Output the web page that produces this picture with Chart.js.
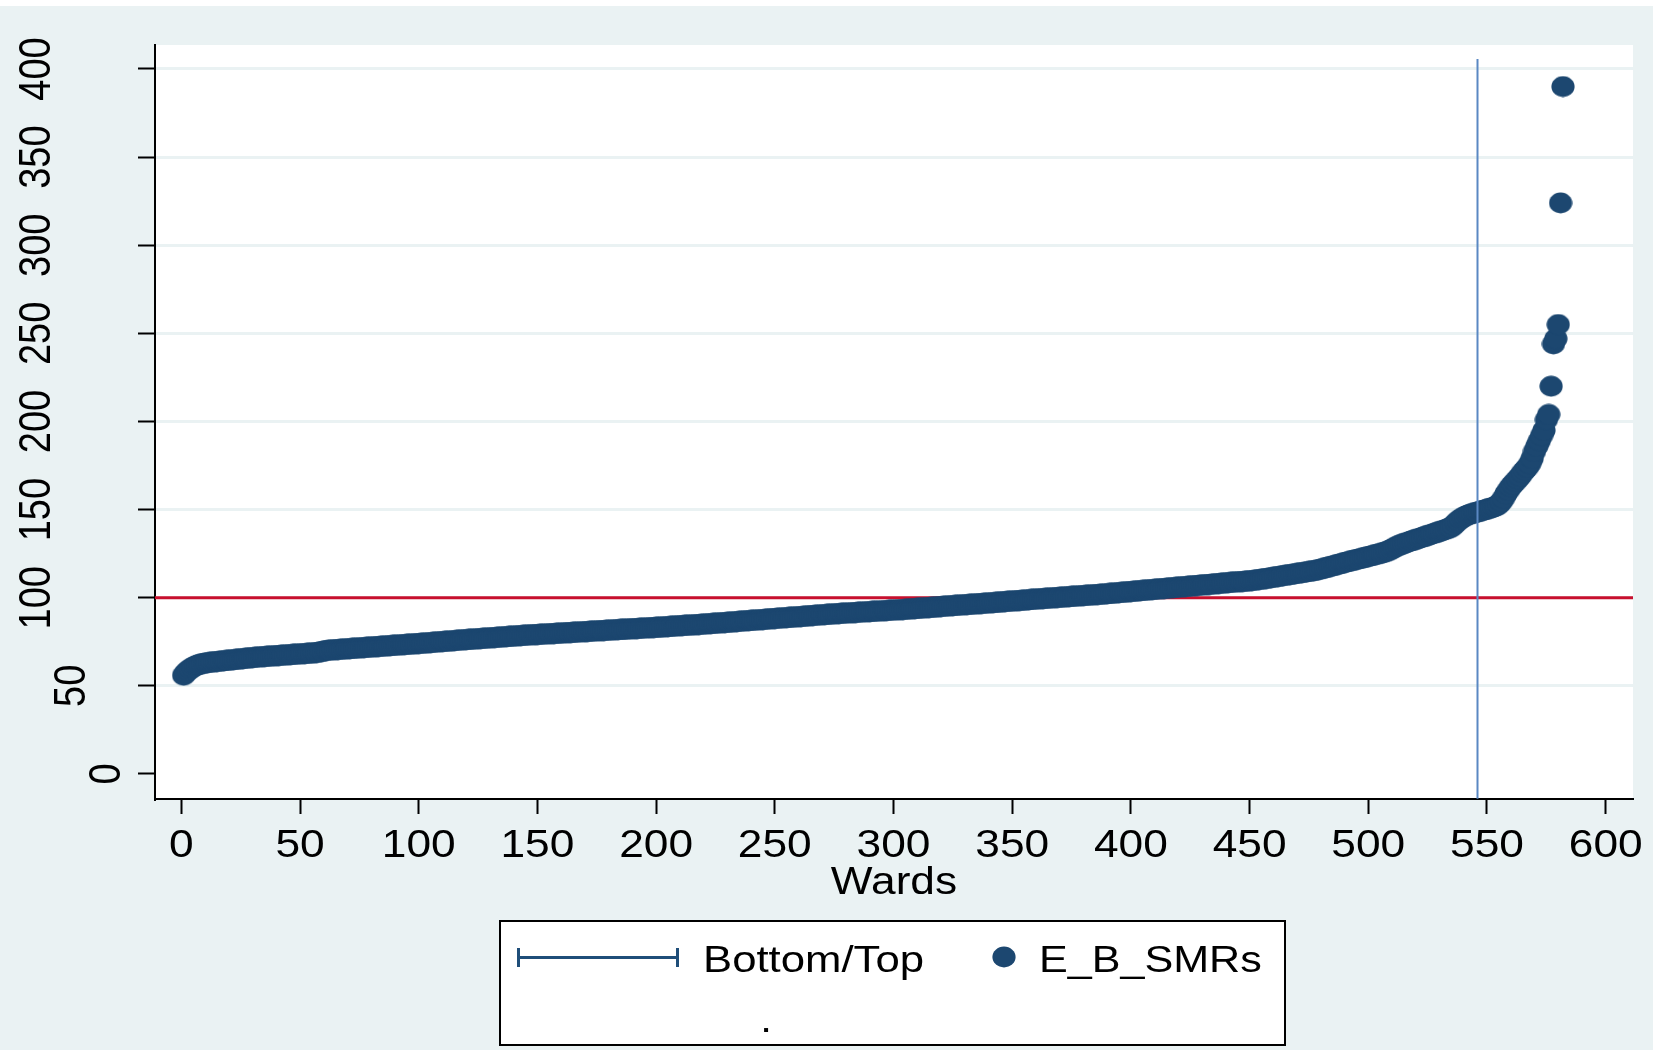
<!DOCTYPE html>
<html>
<head>
<meta charset="utf-8">
<title>E_B_SMRs by ward</title>
<script src="https://cdn.jsdelivr.net/npm/chart.js@4.4.1/dist/chart.umd.min.js"></script>
<style>
  html, body { margin: 0; padding: 0; background: #fff; }
  canvas { display: block; }
</style>
</head>
<body>
<canvas id="smrChart" width="1653" height="1050"></canvas>
<script>
// sorted empirical Bayes SMRs, one per ward (rank 1..582)
var smrValues = [
  56.0, 57.6, 58.8, 59.8, 60.6, 61.3, 61.9, 62.3, 62.6, 62.9,
  63.1, 63.3, 63.5, 63.6, 63.8, 63.9, 64.1, 64.2, 64.4, 64.5,
  64.7, 64.8, 65.0, 65.1, 65.3, 65.4, 65.6, 65.7, 65.9, 66.0,
  66.1, 66.3, 66.4, 66.5, 66.6, 66.7, 66.8, 66.9, 67.0, 67.1,
  67.2, 67.3, 67.4, 67.5, 67.6, 67.7, 67.8, 67.9, 68.0, 68.1,
  68.2, 68.3, 68.4, 68.5, 68.6, 68.7, 68.9, 69.1, 69.4, 69.7,
  70.0, 70.2, 70.3, 70.4, 70.5, 70.6, 70.7, 70.8, 70.9, 71.0,
  71.1, 71.2, 71.3, 71.4, 71.5, 71.6, 71.7, 71.8, 71.9, 72.0,
  72.1, 72.2, 72.3, 72.4, 72.5, 72.6, 72.7, 72.8, 72.9, 73.0,
  73.1, 73.2, 73.3, 73.4, 73.5, 73.6, 73.7, 73.8, 73.9, 74.0,
  74.1, 74.2, 74.3, 74.4, 74.5, 74.6, 74.8, 74.9, 75.0, 75.1,
  75.2, 75.3, 75.4, 75.5, 75.6, 75.8, 75.9, 76.0, 76.1, 76.2,
  76.3, 76.4, 76.5, 76.6, 76.7, 76.8, 76.9, 77.0, 77.1, 77.2,
  77.3, 77.4, 77.5, 77.6, 77.7, 77.8, 77.9, 78.0, 78.1, 78.2,
  78.3, 78.4, 78.5, 78.6, 78.7, 78.8, 78.9, 79.0, 79.0, 79.1,
  79.2, 79.3, 79.4, 79.4, 79.5, 79.6, 79.7, 79.8, 79.8, 79.9,
  80.0, 80.1, 80.2, 80.2, 80.3, 80.4, 80.5, 80.6, 80.6, 80.7,
  80.8, 80.9, 81.0, 81.1, 81.2, 81.2, 81.3, 81.4, 81.5, 81.6,
  81.6, 81.7, 81.8, 81.9, 82.0, 82.0, 82.1, 82.2, 82.3, 82.4,
  82.4, 82.5, 82.6, 82.7, 82.8, 82.8, 82.9, 83.0, 83.1, 83.2,
  83.2, 83.3, 83.4, 83.5, 83.6, 83.7, 83.8, 83.9, 84.0, 84.1,
  84.2, 84.3, 84.4, 84.4, 84.5, 84.6, 84.7, 84.8, 84.9, 85.0,
  85.1, 85.2, 85.3, 85.4, 85.5, 85.6, 85.7, 85.8, 85.9, 86.0,
  86.1, 86.2, 86.3, 86.4, 86.6, 86.7, 86.8, 86.9, 87.0, 87.1,
  87.2, 87.3, 87.4, 87.5, 87.6, 87.7, 87.9, 88.0, 88.1, 88.2,
  88.3, 88.4, 88.5, 88.6, 88.7, 88.8, 88.9, 89.0, 89.1, 89.2,
  89.3, 89.4, 89.5, 89.7, 89.8, 89.9, 90.0, 90.1, 90.2, 90.3,
  90.4, 90.5, 90.6, 90.7, 90.8, 90.9, 91.0, 91.1, 91.2, 91.3,
  91.3, 91.4, 91.5, 91.6, 91.7, 91.8, 91.9, 91.9, 92.0, 92.1,
  92.2, 92.3, 92.4, 92.4, 92.5, 92.6, 92.7, 92.8, 92.9, 93.0,
  93.0, 93.1, 93.2, 93.3, 93.4, 93.5, 93.6, 93.7, 93.8, 93.9,
  94.0, 94.1, 94.2, 94.3, 94.4, 94.5, 94.6, 94.7, 94.9, 95.0,
  95.1, 95.2, 95.3, 95.4, 95.5, 95.6, 95.7, 95.8, 95.9, 96.0,
  96.1, 96.2, 96.3, 96.4, 96.5, 96.6, 96.7, 96.8, 96.9, 97.0,
  97.1, 97.2, 97.3, 97.4, 97.5, 97.7, 97.8, 97.9, 98.0, 98.1,
  98.2, 98.3, 98.4, 98.5, 98.6, 98.7, 98.8, 99.0, 99.1, 99.2,
  99.3, 99.4, 99.5, 99.6, 99.7, 99.8, 99.9, 100.0, 100.1, 100.2,
  100.3, 100.4, 100.5, 100.6, 100.7, 100.8, 100.9, 101.0, 101.1, 101.2,
  101.3, 101.4, 101.5, 101.6, 101.7, 101.8, 101.9, 102.0, 102.1, 102.2,
  102.4, 102.5, 102.6, 102.7, 102.9, 103.0, 103.1, 103.2, 103.4, 103.5,
  103.6, 103.7, 103.9, 104.0, 104.1, 104.2, 104.4, 104.5, 104.6, 104.7,
  104.9, 105.0, 105.1, 105.2, 105.3, 105.5, 105.6, 105.7, 105.8, 106.0,
  106.1, 106.2, 106.3, 106.4, 106.6, 106.7, 106.8, 106.9, 107.1, 107.2,
  107.3, 107.4, 107.5, 107.7, 107.8, 107.9, 108.0, 108.2, 108.3, 108.4,
  108.5, 108.7, 108.8, 108.9, 109.0, 109.1, 109.2, 109.3, 109.4, 109.6,
  109.7, 109.9, 110.1, 110.3, 110.5, 110.7, 110.9, 111.1, 111.3, 111.6,
  111.8, 112.0, 112.2, 112.5, 112.7, 112.9, 113.1, 113.3, 113.5, 113.8,
  114.0, 114.2, 114.4, 114.6, 114.9, 115.1, 115.3, 115.6, 115.9, 116.2,
  116.6, 117.0, 117.3, 117.7, 118.1, 118.4, 118.8, 119.2, 119.5, 119.9,
  120.3, 120.6, 121.0, 121.3, 121.6, 122.0, 122.3, 122.6, 123.0, 123.3,
  123.7, 124.0, 124.4, 124.7, 125.1, 125.4, 125.8, 126.3, 126.9, 127.6,
  128.4, 129.1, 129.7, 130.2, 130.7, 131.2, 131.7, 132.2, 132.6, 133.0,
  133.5, 133.9, 134.4, 134.8, 135.3, 135.7, 136.2, 136.6, 137.1, 137.5,
  138.0, 138.4, 138.9, 139.4, 140.0, 141.2, 142.6, 143.8, 144.8, 145.6,
  146.3, 146.9, 147.4, 147.8, 148.2, 148.6, 149.0, 149.4, 149.8, 150.2,
  150.6, 151.0, 151.5, 152.0, 153.0, 154.5, 156.5, 159.0, 161.0, 163.0,
  164.5, 166.0, 167.5, 169.0, 171.0, 172.5, 174.0, 176.0, 179.0, 183.0,
  186.0, 189.0, 192.0, 195.0, 201.0, 204.0, 220.0, 244.0, 247.0, 255.0,
  324.0, 390.0
];

var refLevel = 100;               // SMR = 100 reference line
var cutoffWard = [546, 546];      // Bottom/Top cap position
var cutoffRange = [-14, 405.7];   // its bottom and top
var xTickLabels = ['0', '50', '100', '150', '200', '250', '300', '350', '400', '450', '500', '550', '600'];
var yTickLabels = ['0', '50', '100', '150', '200', '250', '300', '350', '400'];
var legendLabels = ['Bottom/Top', 'E_B_SMRs'];

var xMin = -11.08, xMax = 611.5;
var yMin = -14.2, yMax = 413.6;

var NAVY = '#1c4770';
var CRANBERRY = '#c8102e';
var CAPBLUE = '#5a88c3';
var BG = '#eaf2f3';
var FONT = '"Liberation Sans", Arial, Helvetica, sans-serif';
var SX = 1.165;   // the original graph is stretched sideways

// marker: slightly wide dot, like the stretched original
var dot = document.createElement('canvas');
dot.width = 24; dot.height = 22;
(function() {
  var c = dot.getContext('2d');
  c.fillStyle = NAVY;
  c.beginPath();
  c.ellipse(12, 11, 11.6, 10.4, 0, 0, Math.PI * 2);
  c.fill();
})();

function stretchText(ctx, txt, x, y, size, align, vertical) {
  ctx.save();
  ctx.translate(x, y);
  ctx.scale(SX, 1);
  if (vertical) ctx.rotate(-Math.PI / 2);
  ctx.font = size + 'px ' + FONT;
  ctx.fillStyle = '#000';
  ctx.textAlign = align;
  ctx.textBaseline = 'alphabetic';
  ctx.fillText(txt, 0, 0);
  ctx.restore();
}

var stataLook = {
  id: 'stataLook',
  beforeDraw: function(chart) {
    var ctx = chart.ctx, a = chart.chartArea;
    ctx.save();
    ctx.fillStyle = '#fff';
    ctx.fillRect(0, 0, chart.width, chart.height);
    ctx.fillStyle = BG;
    ctx.fillRect(0, 6, chart.width, chart.height - 6);
    ctx.fillStyle = '#fff';
    ctx.fillRect(a.left, a.top, a.right - a.left, a.bottom - a.top);
    ctx.restore();
  },
  afterDraw: function(chart) {
    var ctx = chart.ctx, a = chart.chartArea;
    var xs = chart.scales.x, ys = chart.scales.y;

    xs.ticks.forEach(function(t) {
      var lbl = xTickLabels[xTickLabels.indexOf(String(t.value))];
      if (lbl === undefined) return;
      stretchText(ctx, lbl, xs.getPixelForValue(t.value), a.bottom + 58, 38, 'center', false);
    });
    stretchText(ctx, 'Wards', (a.left + a.right) / 2, a.bottom + 94.5, 38, 'center', false);

    ys.ticks.forEach(function(t) {
      var lbl = yTickLabels[yTickLabels.indexOf(String(t.value))];
      if (lbl === undefined) return;
      var bx = 50 + (3 - lbl.length) * 35;
      stretchText(ctx, lbl, bx, ys.getPixelForValue(t.value), 38, 'center', true);
    });

    // legend box
    ctx.save();
    ctx.fillStyle = '#fff';
    ctx.fillRect(500, 921, 785, 124);
    ctx.strokeStyle = '#000';
    ctx.lineWidth = 2;
    ctx.strokeRect(500, 921, 785, 124);

    ctx.strokeStyle = '#1f4e79';
    ctx.lineWidth = 3;
    ctx.beginPath();
    ctx.moveTo(517, 957.5); ctx.lineTo(679, 957.5);
    ctx.moveTo(518.5, 948); ctx.lineTo(518.5, 967);
    ctx.moveTo(677.5, 948); ctx.lineTo(677.5, 967);
    ctx.stroke();
    ctx.drawImage(dot, 1004 - 12, 957 - 11);
    ctx.restore();

    stretchText(ctx, legendLabels[0], 703, 971.5, 37.5, 'left', false);
    stretchText(ctx, legendLabels[1], 1039, 971.5, 37, 'left', false);
    stretchText(ctx, '.', 766, 1031.5, 36, 'center', false);
  }
};

var smrPoints = smrValues.map(function(v, i) { return { x: i + 1, y: v }; });

new Chart(document.getElementById('smrChart').getContext('2d'), {
  type: 'scatter',
  data: {
    datasets: [
      {
        label: legendLabels[0],
        data: [{ x: cutoffWard[0], y: cutoffRange[0] }, { x: cutoffWard[1], y: cutoffRange[1] }],
        showLine: true,
        borderColor: CAPBLUE,
        borderWidth: 2,
        pointRadius: 0,
        order: 0
      },
      {
        label: legendLabels[1],
        data: smrPoints,
        pointStyle: dot,
        backgroundColor: NAVY,
        borderWidth: 0,
        pointRadius: 11,
        pointHoverRadius: 11,
        order: 1
      },
      {
        label: 'ref',
        data: [{ x: xMin, y: refLevel }, { x: xMax, y: refLevel }],
        showLine: true,
        borderColor: CRANBERRY,
        borderWidth: 3,
        pointRadius: 0,
        order: 2
      }
    ]
  },
  options: {
    responsive: false,
    animation: false,
    events: [],
    layout: { padding: { top: 45, right: 20, left: 0, bottom: 0 } },
    plugins: {
      legend: { display: false },
      tooltip: { enabled: false }
    },
    scales: {
      x: {
        type: 'linear',
        min: xMin,
        max: xMax,
        afterFit: function(s) { s.height = 251; },
        ticks: { display: false, stepSize: 50, includeBounds: false },
        grid: { drawOnChartArea: false, tickLength: 15, tickWidth: 2, tickColor: '#000' },
        border: { color: '#000', width: 2 }
      },
      y: {
        type: 'linear',
        min: yMin,
        max: yMax,
        afterFit: function(s) { s.width = 155; },
        ticks: { display: false, stepSize: 50, includeBounds: false },
        grid: {
          color: function(c) { return c.tick && c.tick.value === 0 ? 'rgba(0,0,0,0)' : BG; },
          lineWidth: 3,
          tickLength: 17,
          tickWidth: 2,
          tickColor: '#000'
        },
        border: { color: '#000', width: 2 }
      }
    }
  },
  plugins: [stataLook]
});
</script>
</body>
</html>
